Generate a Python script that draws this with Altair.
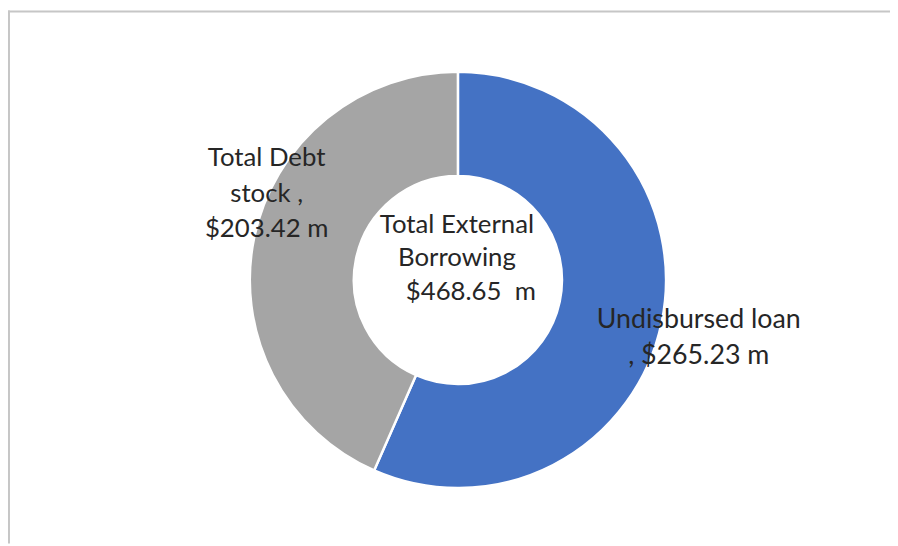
import altair as alt
import pandas as pd

# ---- data ----
categories = ["Undisbursed loan", "Total Debt stock"]
values = [265.23, 203.42]
colors = ["#4472C4", "#A5A5A5"]
order = [1, 2]

total_title = ["Total External", "Borrowing"]
total_value_text = "$468.65\u00a0 m"
debt_label = ["Total Debt", "stock ,", "$203.42 m"]
loan_label = ["Undisbursed loan", ", $265.23 m"]

df = pd.DataFrame({"category": categories, "value": values, "order": order})

W, H = 890, 538
CX, CY = 454, 272
FONT = "Lato"
FS = 26
TXT = "#262626"

arc = alt.Chart(df).mark_arc(
    innerRadius=105, outerRadius=210, stroke="white", strokeWidth=2.5
).encode(
    theta=alt.Theta("value:Q", stack=True),
    order=alt.Order("order:Q"),
    color=alt.Color("category:N", scale=alt.Scale(domain=categories, range=colors), legend=None),
    x=alt.value(CX),
    y=alt.value(CY),
)

def text_layer(lines, x, y, lh, fs=FS):
    d = pd.DataFrame({"t": ["\n".join(lines)]})
    return alt.Chart(d).mark_text(
        font=FONT, fontSize=fs, color=TXT, align="center", baseline="middle",
        lineBreak="\n", lineHeight=lh,
    ).encode(text="t:N", x=alt.value(x), y=alt.value(y))

debt = text_layer(debt_label, 261, 149, 36)
loan = text_layer(loan_label, 697, 312, 37, 27)
center1 = text_layer(total_title, 453, 217, 33)
center2 = text_layer([total_value_text], 467, 284, 33)

top_rule = alt.Chart(pd.DataFrame({"a": [0]})).mark_rule(color="#c6c6c6", strokeWidth=2).encode(
    x=alt.value(0), x2=alt.value(W), y=alt.value(1)
)
left_rule = alt.Chart(pd.DataFrame({"a": [0]})).mark_rule(color="#c6c6c6", strokeWidth=2).encode(
    x=alt.value(1), y=alt.value(0), y2=alt.value(H)
)

chart = alt.layer(arc, debt, loan, center1, center2, top_rule, left_rule).properties(
    width=W, height=H, padding=0, autosize=alt.AutoSizeParams(type="none"),
    background="white",
).configure_view(stroke=None)

chart.save("out.html", embed_options={"renderer": "svg", "actions": False})
